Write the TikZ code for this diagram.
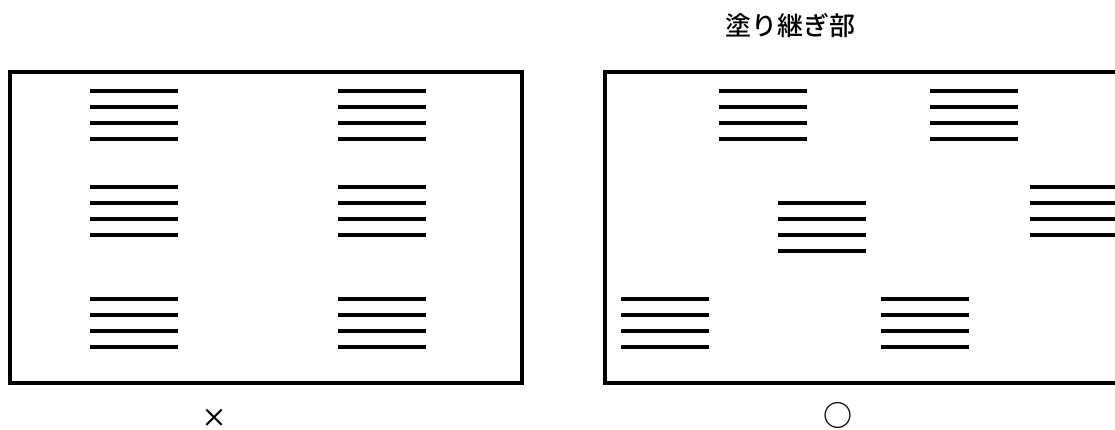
\documentclass[tikz,border=0pt]{standalone}
\usepackage{fontspec}
\newfontfamily\cjk[UprightFont={* Medium}]{Noto Sans CJK JP}
\newfontfamily\cjkb[UprightFont={* Bold}]{Noto Sans CJK JP}
\begin{document}
\begin{tikzpicture}[x=1pt,y=-1pt,
  frame/.style={line width=3.8pt, line join=miter},
  bar/.style={line width=3.6pt},
  lbl/.style={inner sep=0pt, font=\cjk\fontsize{26}{26}\selectfont},
  stackpic/.pic={\foreach \k in {0,1,2,3}{\draw[bar] (0,16*\k) -- (88,16*\k);}}]
\useasboundingbox (0,0) rectangle (1115,430);
\clip (0,0) rectangle (1115,430);
% left box
\draw[frame] (10,72) rectangle (522,383);
\foreach \xx in {90,338}{
  \foreach \yy in {91,187,299}{
    \pic at (\xx,\yy) {stackpic};
  }
}
% right box (cut off at right)
\draw[frame] (1125,72) -- (605,72) -- (605,383) -- (1125,383);
\pic at (719,91) {stackpic};
\pic at (930,91) {stackpic};
\pic at (778,203) {stackpic};
\pic at (1030,187) {stackpic};
\pic at (621,299) {stackpic};
\pic at (881,299) {stackpic};
% labels
\node[lbl] (title) at (790,25.5) {塗り継ぎ部};
\node[lbl] (bad) at (214.5,418.5) {×};
\node[lbl, font=\cjkb\fontsize{29}{29}\selectfont] (good) at (837.5,415) {○};
\end{tikzpicture}
\end{document}
